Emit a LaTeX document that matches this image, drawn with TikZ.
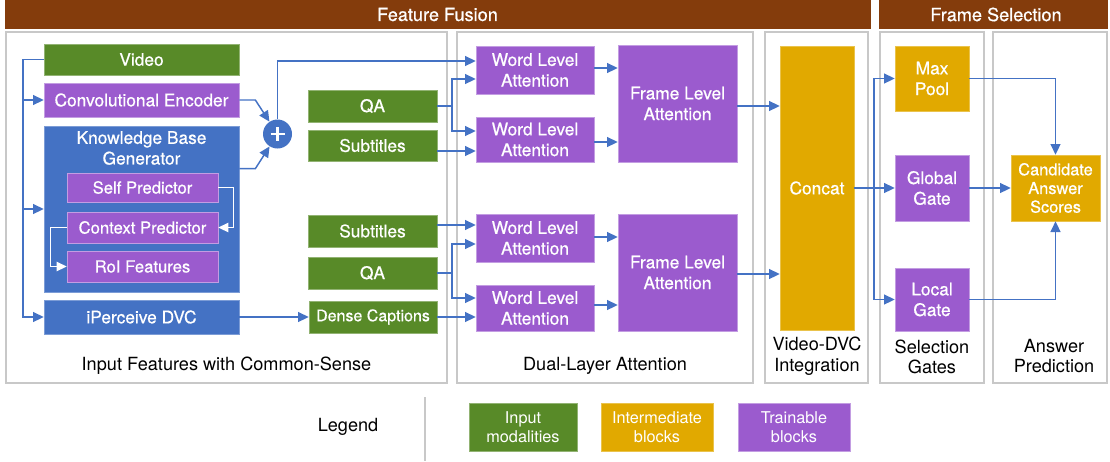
\documentclass[tikz,border=0pt]{standalone}
\usepackage{fontspec}
\setmainfont{TeX Gyre Heros}
\newfontfamily\medfont{TeX Gyre Heros}[FakeBold=0.6]
\usetikzlibrary{arrows.meta,calc}
\definecolor{cgreen}{HTML}{588A28}
\definecolor{cpurple}{HTML}{9B5BCE}
\definecolor{cblue}{HTML}{4472C4}
\definecolor{cgold}{HTML}{E1A900}
\definecolor{cbrown}{HTML}{843C0C}
\definecolor{cpanel}{HTML}{C8C8C8}
\begin{document}
\begin{tikzpicture}[x=0.75pt,y=-0.75pt,
  font=\medfont\fontsize{13}{15.5}\selectfont,
  sz/.style 2 args={minimum width={#1*0.75pt}, minimum height={#2*0.75pt}},
  box/.style={rectangle, inner sep=0pt, text=white, align=center, line width=0.5pt},
  gbox/.style={box, fill=cgreen, draw=cgreen!65!white},
  pbox/.style={box, fill=cpurple, draw=cpurple!60!white},
  bbox/.style={box, fill=cblue, draw=cblue!70!white},
  obox/.style={box, fill=cgold, draw=cgold!70!white},
  innertxt/.style={font=\medfont\fontsize{12.5}{15}\selectfont},
  legtxt/.style={font=\fontsize{12.2}{14}\selectfont},
  captxt/.style={font=\fontsize{13.6}{15.5}\selectfont},
  panel/.style={draw=cpanel, line width=2.2pt},
  arr/.style={draw=cblue, line width=1.1pt, -{Triangle[length=8pt,width=7.5pt]}},
  ln/.style={draw=cblue, line width=1.1pt},
  warr/.style={draw=white, line width=1.1pt, -{Triangle[length=7.5pt,width=7pt]}},
  lbl/.style={text=black, align=center, inner sep=0pt},
  wlbl/.style={text=white, align=center, inner sep=0pt}
]
\useasboundingbox (0,0) rectangle (1110,461);

% header bars
\fill[cbrown] (5,0) rectangle (871,29);
\fill[cbrown] (879,0) rectangle (1108,29);
\node[wlbl, font=\medfont\fontsize{13.6}{15}\selectfont] (hff) at (437.5,14.5) {Feature Fusion};
\node[wlbl, font=\medfont\fontsize{13.6}{15}\selectfont] (hfs) at (996,14.5) {Frame Selection};

% panels
\draw[panel] (6,32) rectangle (447,383);
\draw[panel] (457,32) rectangle (753,383);
\draw[panel] (765,32) rectangle (868,383);
\draw[panel] (880,32) rectangle (984,383);
\draw[panel] (993,32) rectangle (1107,383);

% panel captions
\node[lbl, captxt] (c1) at (226.5,366) {Input Features with Common-Sense};
\node[lbl, captxt] (c2) at (605,366) {Dual-Layer Attention};
\node[lbl, captxt] (c3) at (817,356) {Video-DVC\\Integration};
\node[lbl, captxt] (c4) at (932,357) {Selection\\Gates};
\node[lbl, captxt] (c5) at (1054,356) {Answer\\Prediction};

% panel 1
\node[gbox, sz={195}{31}] (video) at (141.5,59.5) {Video};
\node[pbox, sz={195}{34}] (conv) at (141.5,100) {Convolutional Encoder};
\node[bbox, sz={195}{166}] (kb) at (141.5,209) {};
\node[wlbl] (kbl) at (141.5,148) {Knowledge Base\\Generator};
\node[pbox, innertxt, sz={151}{29}] (self) at (142.5,187.5) {Self Predictor};
\node[pbox, innertxt, sz={151}{31}] (ctx) at (142.5,227.5) {Context Predictor};
\node[pbox, innertxt, sz={151}{31}] (roi) at (142.5,266.5) {RoI Features};
\node[bbox, sz={195}{34}] (ipdvc) at (141.5,317) {iPerceive DVC};
\node[circle, fill=cblue, minimum size={29*0.75pt}, inner sep=0pt] (plus) at (277.5,134) {};
\draw[white, line width=2.2pt] ($(plus)+(-7,0)$) -- ($(plus)+(7,0)$);
\draw[white, line width=2.2pt] ($(plus)+(0,-7)$) -- ($(plus)+(0,7)$);

\node[gbox, sz={129}{32}] (qa1) at (372.5,106) {QA};
\node[gbox, sz={129}{31}] (sub1) at (372.5,145.5) {Subtitles};
\node[gbox, sz={129}{32}] (sub2) at (372.5,231) {Subtitles};
\node[gbox, sz={129}{32}] (qa2) at (372.5,273) {QA};
\node[gbox, sz={128}{32}, font=\medfont\fontsize{12}{14}\selectfont] (dense) at (373,317) {Dense Captions};

% panel 2
\node[pbox, sz={118}{48}] (wla1) at (535,70) {Word Level\\Attention};
\node[pbox, sz={118}{45}] (wla2) at (535,139.5) {Word Level\\Attention};
\node[pbox, sz={119}{117}] (fla1) at (677.5,103.5) {Frame Level\\Attention};
\node[pbox, sz={118}{48}] (wla3) at (535,238) {Word Level\\Attention};
\node[pbox, sz={118}{46}] (wla4) at (535,308) {Word Level\\Attention};
\node[pbox, sz={119}{117}] (fla2) at (677.5,272.5) {Frame Level\\Attention};

% panel 3-5
\node[obox, sz={74}{284}] (concat) at (817,188) {Concat};
\node[obox, sz={74}{65}] (maxpool) at (932,78.5) {Max\\Pool};
\node[pbox, sz={74}{66}] (global) at (932,188) {Global\\Gate};
\node[pbox, sz={74}{63}] (local) at (932,299.5) {Local\\Gate};
\node[obox, sz={89}{66}, font=\medfont\fontsize{12.3}{14}\selectfont] (cand) at (1055.5,188) {Candidate\\Answer\\Scores};

% legend
\node[lbl, captxt] (leg) at (348,427) {Legend};
\draw[draw=cpanel, line width=1.8pt] (425,397) -- (425,461);
\node[gbox, sz={108}{48}, legtxt] (l1) at (523,427) {Input\\modalities};
\node[obox, sz={112}{48}, legtxt] (l2) at (657,427) {Intermediate\\blocks};
\node[pbox, sz={112}{48}, legtxt] (l3) at (794,427) {Trainable\\blocks};

% connectors panel 1
\coordinate (j1) at (23,317);
\draw[arr] (video.west) -| (j1) -- (ipdvc.west);
\draw[arr] (j1 |- conv.west) -- (conv.west);
\draw[arr] (j1 |- kb.west) -- (kb.west);
\draw[arr] (conv.east) -- ++(16,0) -- (plus);
\draw[arr] ($(kb.north east)+(0,43)$) -- ++(16,0) -- (plus);
\draw[warr] (self.east) -- ++(15,0) |- (ctx.east);
\draw[warr] (ctx.west) -- ++(-16,0) |- (roi.west);
\draw[arr] (plus.north) |- ($(wla1.west)+(0,-9)$);
\draw[arr] (ipdvc.east) -- (dense.west);

% to word level attention
\coordinate (b1) at (452,106);
\draw[ln] (qa1.east) -- (b1);
\draw[arr] (b1) |- ($(wla1.west)+(0,9)$);
\draw[arr] (b1) |- ($(wla2.west)+(0,-8.5)$);
\draw[arr] ($(sub1.east)+(0,5.5)$) -- ($(wla2.west)+(0,11.5)$);
\draw[arr] ($(sub2.east)+(0,-6)$) -- ($(wla3.west)+(0,-13)$);
\coordinate (b2) at (452,273);
\draw[ln] (qa2.east) -- (b2);
\draw[arr] (b2) |- ($(wla3.west)+(0,6)$);
\draw[arr] (b2) |- ($(wla4.west)+(0,-10)$);
\draw[arr] (dense.east) -- ($(wla4.west)+(0,9)$);

% word -> frame
\draw[arr] ($(wla1.east)+(0,-2)$) -- ($(wla1.east -| fla1.west)+(0,-2)$);
\draw[arr] ($(wla2.east)+(0,2.5)$) -- ($(wla2.east -| fla1.west)+(0,2.5)$);
\draw[arr] ($(wla3.east)+(0,-1)$) -- ($(wla3.east -| fla2.west)+(0,-1)$);
\draw[arr] ($(wla4.east)+(0,-3)$) -- ($(wla4.east -| fla2.west)+(0,-3)$);
\draw[arr] ($(fla1.east)+(0,2.5)$) -- ($(fla1.east -| concat.west)+(0,2.5)$);
\draw[arr] ($(fla2.east)+(0,1.5)$) -- ($(fla2.east -| concat.west)+(0,1.5)$);

% selection
\coordinate (b3) at (874,188);
\draw[arr] (concat.east) -- (global.west);
\draw[arr] (b3) |- (maxpool.west);
\draw[arr] (b3) |- (local.west);
\draw[arr] (maxpool.east) -| (cand.north);
\draw[arr] (global.east) -- (cand.west);
\draw[arr] (local.east) -| (cand.south);
\end{tikzpicture}
\end{document}
